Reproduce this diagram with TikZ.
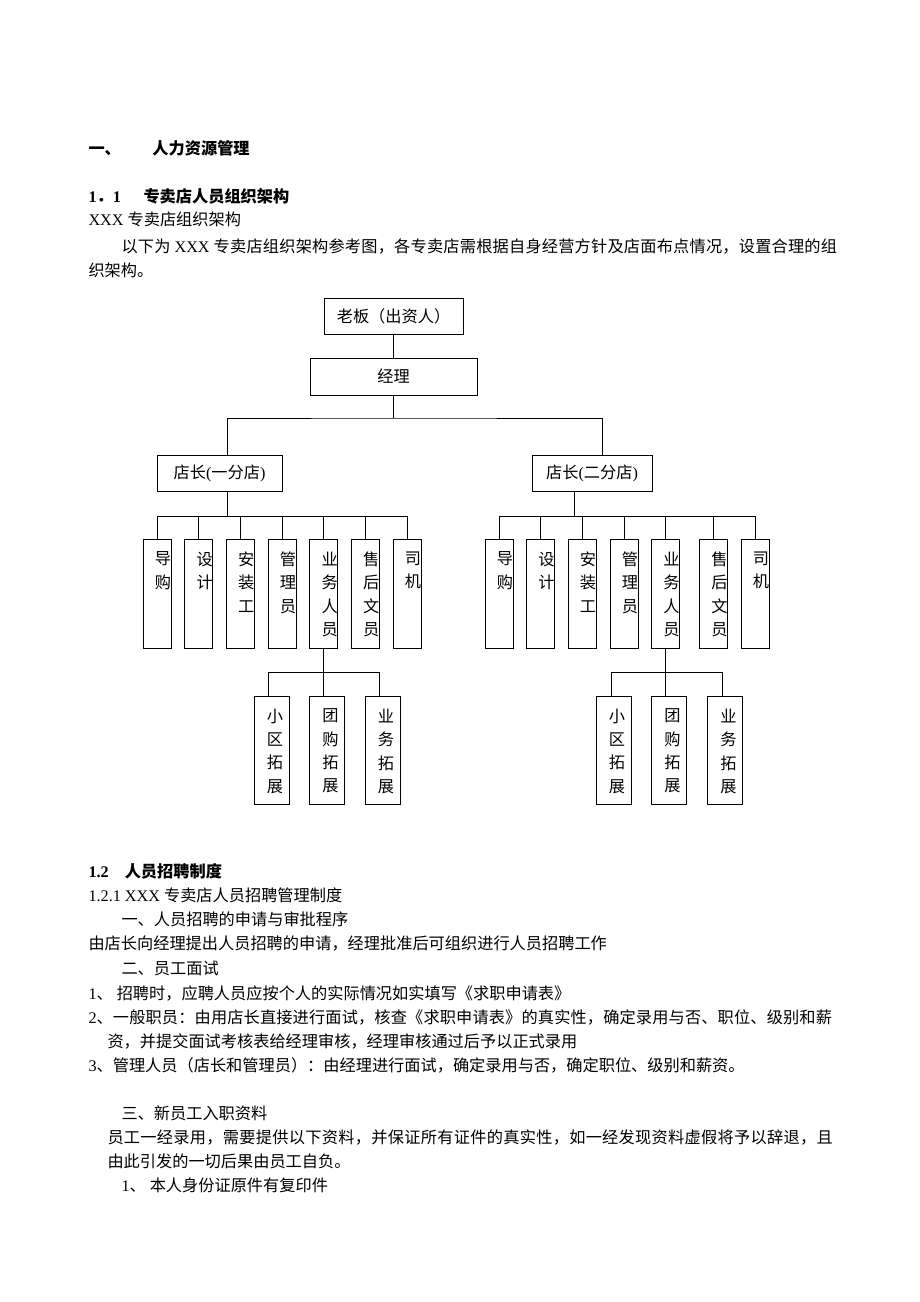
\documentclass[tikz,border=0pt]{standalone}
\usepackage{fontspec}
\setmainfont{Noto Sans CJK SC}
\newfontfamily\lat{Liberation Serif}
\usetikzlibrary{positioning}

\newcommand\cnsize{\fontsize{16.2pt}{23.3pt}\selectfont}

\tikzset{
  basic/.style  = {draw, rectangle, line width=1pt, inner sep=0pt, font=\cnsize},
  boss/.style   = {basic, minimum width=139pt, minimum height=36pt},
  mgr/.style    = {basic, minimum width=167pt, minimum height=37pt},
  shop/.style   = {basic, minimum height=36pt},
  lbl/.style    = {anchor=north, align=center, inner sep=0pt, yshift=-13pt, font=\cnsize},
  tall/.style   = {basic, minimum width=28pt, minimum height=109pt,
                   label={[lbl, xshift=6pt]north:#1}},
  sub/.style    = {basic, minimum width=35pt, minimum height=108pt,
                   label={[lbl, xshift=3.5pt]north:#1}},
  txt/.style    = {anchor=west, inner sep=0pt, font=\cnsize}
}

\begin{document}
\begin{tikzpicture}[x=1pt, y=-1pt, line width=1pt]

\useasboundingbox (0,0) rectangle (920,1302);

% page text above the chart
\node[txt] (h1)  at (88,148) {\textbf{一、\hspace{31.6pt}人力资源管理}};
\node[txt] (h11) at (88,196) {\textbf{{\lat 1}．{\lat 1}\hspace{22.6pt}专卖店人员组织架构}};
\node[txt] (t1)  at (88,219) {{\lat XXX }专卖店组织架构};
\node[txt] (t2)  at (121,246) {\addfontfeature{LetterSpace=1.3}以下为{\lat\ XXX }专卖店组织架构参考图，各专卖店需根据自身经营方针及店面布点情况，设置合理的组};
\node[txt] (t3)  at (88,270) {织架构。};

% top of the chart
\node[boss] (boss) at (393.5,316) {老板（出资人）};
\node[mgr]  (mgr)  at (393.5,376.5) {经理};

\begin{scope}[every node/.style={shop}]
\node[minimum width=125pt] (sd1) at (219.5,473) {店长{\lat(}一分店{\lat)}};
\node[minimum width=120pt] (sd2) at (592,473.5) {店长{\lat(}二分店{\lat)}};
\end{scope}

% staff of the first shop
\node[tall=导\\购]         (a1) at (157,593.5) {};
\node[tall=设\\计]         (a2) at (198.7,593.5) {};
\node[tall=安\\装\\工]     (a3) at (240.3,593.5) {};
\node[tall=管\\理\\员]     (a4) at (282,593.5) {};
\node[tall=业\\务\\人\\员] (a5) at (323.7,593.5) {};
\node[tall=售\\后\\文\\员] (a6) at (365.3,593.5) {};
\node[tall=司\\机]         (a7) at (407,593.5) {};

% staff of the second shop
\node[tall=导\\购]         (b1) at (499,593.5) {};
\node[tall=设\\计]         (b2) at (540.5,593.5) {};
\node[tall=安\\装\\工]     (b3) at (582,593.5) {};
\node[tall=管\\理\\员]     (b4) at (624,593.5) {};
\node[tall=业\\务\\人\\员] (b5) at (665.5,593.5) {};
\node[tall=售\\后\\文\\员] (b6) at (713.5,593.5) {};
\node[tall=司\\机]         (b7) at (755,593.5) {};

% sales teams
\node[sub=小\\区\\拓\\展] (c1) at (271.5,750) {};
\node[sub=团\\购\\拓\\展] (c2) at (327,750) {};
\node[sub=业\\务\\拓\\展] (c3) at (382.5,750) {};

\node[sub=小\\区\\拓\\展] (d1) at (613.5,750) {};
\node[sub=团\\购\\拓\\展] (d2) at (669,750) {};
\node[sub=业\\务\\拓\\展] (d3) at (725,750) {};

% connectors
\coordinate (j1) at (393.5,418);
\coordinate (j2) at (227,516);
\coordinate (j3) at (574.3,516);
\coordinate (j4) at (323.7,672);
\coordinate (j5) at (665.5,672);

\draw (boss) -- (mgr);
\draw (mgr) -- (j1);
\draw ([xshift=7.5pt]sd1.north) |- (j1) -| ([xshift=10pt]sd2.north);

\draw ([xshift=7.5pt]sd1.south) -- (j2);
\foreach \value in {1,...,7}
  \draw (j2) -| (a\value.north);

\draw ([xshift=-17.7pt]sd2.south) -- (j3);
\foreach \value in {1,...,7}
  \draw (j3) -| (b\value.north);

\draw (a5) -- (j4);
\foreach \value in {1,...,3}
  \draw (j4) -| ([xshift=-3.5pt]c\value.north);

\draw (b5) -- (j5);
\foreach \value/\dx in {1/-2.5,2/-3.5,3/-3}
  \draw (j5) -| ([xshift=\dx pt]d\value.north);

% page text below the chart
\node[txt] (h12) at (88,871) {\textbf{{\lat 1.2}\hspace{16pt}人员招聘制度}};
\node[txt] (t4)  at (88,895) {{\lat 1.2.1 XXX }专卖店人员招聘管理制度};
\node[txt] (t5)  at (121,919) {一、人员招聘的申请与审批程序};
\node[txt] (t6)  at (88,944) {由店长向经理提出人员招聘的申请，经理批准后可组织进行人员招聘工作};
\node[txt] (t7)  at (121,968) {二、员工面试};
\node[txt] (t8)  at (88,993) {{\lat 1}、\hspace{4pt}招聘时，应聘人员应按个人的实际情况如实填写《求职申请表》};
\node[txt] (t9)  at (88,1017) {\addfontfeature{LetterSpace=0.9}{\lat 2}、一般职员：由用店长直接进行面试，核查《求职申请表》的真实性，确定录用与否、职位、级别和薪};
\node[txt] (t10) at (107,1041) {资，并提交面试考核表给经理审核，经理审核通过后予以正式录用};
\node[txt] (t11) at (88,1065) {{\lat 3}、管理人员（店长和管理员）：由经理进行面试，确定录用与否，确定职位、级别和薪资。};
\node[txt] (t12) at (121,1113) {三、新员工入职资料};
\node[txt] (t13) at (107,1137) {\addfontfeature{LetterSpace=1.8}员工一经录用，需要提供以下资料，并保证所有证件的真实性，如一经发现资料虚假将予以辞退，且};
\node[txt] (t14) at (107,1161) {由此引发的一切后果由员工自负。};
\node[txt] (t15) at (121,1185) {{\lat 1}、\hspace{4pt}本人身份证原件有复印件};

\end{tikzpicture}
\end{document}
